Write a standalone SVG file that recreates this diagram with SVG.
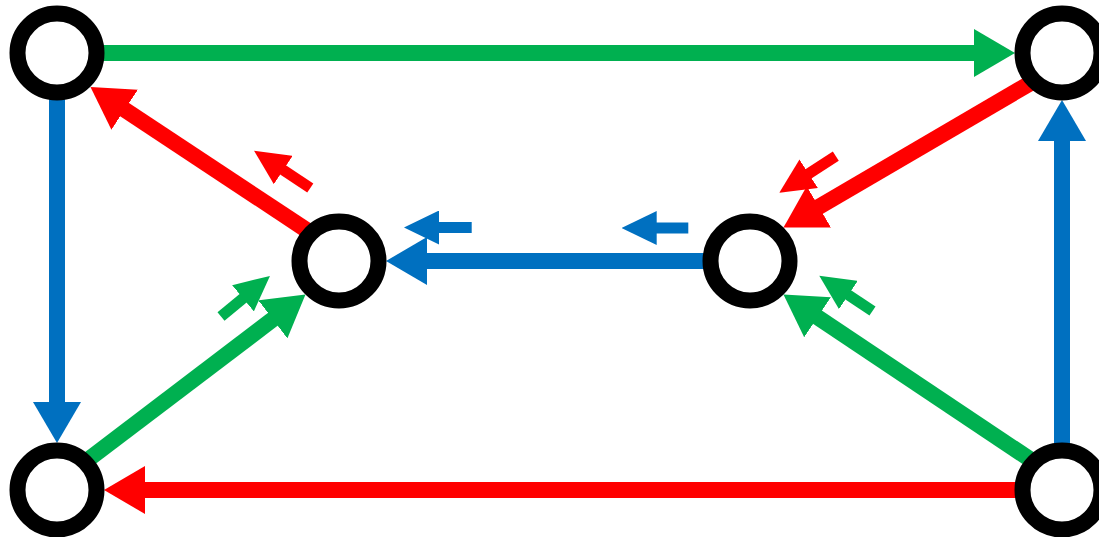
<svg xmlns="http://www.w3.org/2000/svg" width="1099" height="537" viewBox="0 0 1099 537">
  <style>
    .node { fill: #FFFFFF; stroke: #000000; stroke-width: 16; }
    .big { stroke-width: 16; fill: none; stroke-linecap: butt; }
    .small { stroke-width: 11; fill: none; stroke-linecap: butt; }
    .g { stroke: #00B050; }
    .b { stroke: #0070C0; }
    .r { stroke: #FF0000; }
  </style>
  <defs>
    <marker id="bg" markerUnits="userSpaceOnUse" viewBox="0 0 41 48" refX="11" refY="24" markerWidth="41" markerHeight="48" orient="auto"><path d="M0,0 L41,24 L0,48 z" fill="#00B050"/></marker>
    <marker id="bb" markerUnits="userSpaceOnUse" viewBox="0 0 41 48" refX="11" refY="24" markerWidth="41" markerHeight="48" orient="auto"><path d="M0,0 L41,24 L0,48 z" fill="#0070C0"/></marker>
    <marker id="br" markerUnits="userSpaceOnUse" viewBox="0 0 41 48" refX="11" refY="24" markerWidth="41" markerHeight="48" orient="auto"><path d="M0,0 L41,24 L0,48 z" fill="#FF0000"/></marker>
    <marker id="sg" markerUnits="userSpaceOnUse" viewBox="0 0 35 34" refX="10" refY="17" markerWidth="35" markerHeight="34" orient="auto"><path d="M0,0 L35,17 L0,34 z" fill="#00B050"/></marker>
    <marker id="sb" markerUnits="userSpaceOnUse" viewBox="0 0 35 34" refX="10" refY="17" markerWidth="35" markerHeight="34" orient="auto"><path d="M0,0 L35,17 L0,34 z" fill="#0070C0"/></marker>
    <marker id="sr" markerUnits="userSpaceOnUse" viewBox="0 0 35 34" refX="10" refY="17" markerWidth="35" markerHeight="34" orient="auto"><path d="M0,0 L35,17 L0,34 z" fill="#FF0000"/></marker>
  </defs>
  <g id="connectors">
    <line class="big g" x1="97" y1="53" x2="985" y2="53" marker-end="url(#bg)"/>
    <line class="big b" x1="57" y1="92" x2="57" y2="413" marker-end="url(#bb)"/>
    <line class="big r" x1="1022" y1="490" x2="134" y2="490" marker-end="url(#br)"/>
    <line class="big b" x1="1062" y1="451" x2="1062" y2="130" marker-end="url(#bb)"/>
    <line class="big r" x1="311" y1="233" x2="115.5" y2="103.6" marker-end="url(#br)"/>
    <line class="big r" x1="1034" y1="81" x2="809.4" y2="212.4" marker-end="url(#br)"/>
    <line class="big g" x1="85" y1="462" x2="281.6" y2="312.7" marker-end="url(#bg)"/>
    <line class="big g" x1="1034" y1="462" x2="808.4" y2="311.2" marker-end="url(#bg)"/>
    <line class="big b" x1="711" y1="261" x2="416" y2="261" marker-end="url(#bb)"/>
  </g>
  <g id="flow-arrows">
    <line class="small r" x1="310.3" y1="188" x2="274.9" y2="164.5" marker-end="url(#sr)"/>
    <line class="small b" x1="471.7" y1="227.5" x2="429" y2="227.5" marker-end="url(#sb)"/>
    <line class="small g" x1="221" y1="316.5" x2="250.7" y2="291.9" marker-end="url(#sg)"/>
    <line class="small b" x1="688.3" y1="228" x2="646.7" y2="228" marker-end="url(#sb)"/>
    <line class="small r" x1="835.8" y1="156.2" x2="800.3" y2="179.1" marker-end="url(#sr)"/>
    <line class="small g" x1="872.5" y1="311" x2="840.1" y2="289.5" marker-end="url(#sg)"/>
  </g>
  <g id="node-tl"><circle class="node" cx="57" cy="53" r="39.5"/></g>
  <g id="node-tr"><circle class="node" cx="1062" cy="53" r="39.5"/></g>
  <g id="node-ml"><circle class="node" cx="339" cy="261" r="39.5"/></g>
  <g id="node-mr"><circle class="node" cx="750" cy="261" r="39.5"/></g>
  <g id="node-bl"><circle class="node" cx="57" cy="490" r="39.5"/></g>
  <g id="node-br"><circle class="node" cx="1062" cy="490" r="39.5"/></g>
</svg>
